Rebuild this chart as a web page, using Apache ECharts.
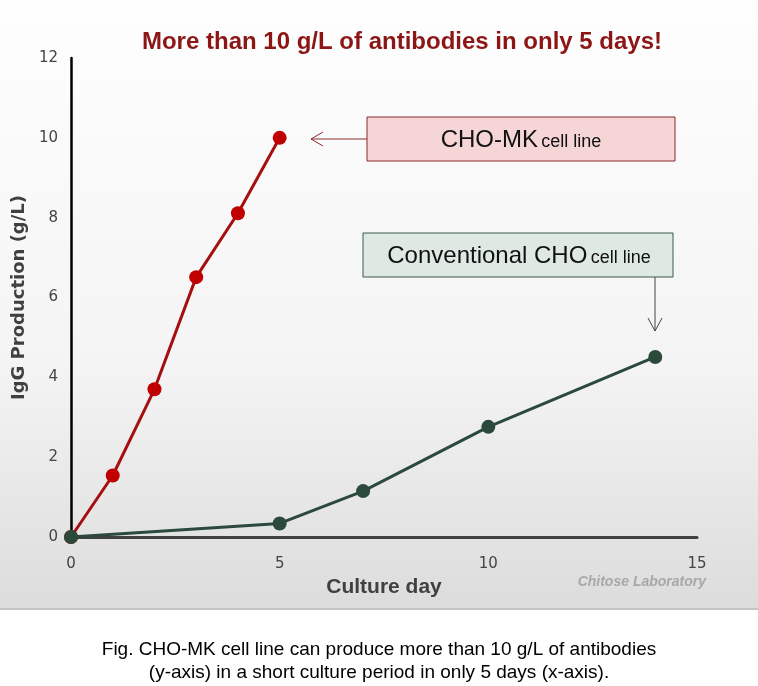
<!DOCTYPE html>
<html><head><meta charset="utf-8">
<script src="https://cdn.jsdelivr.net/npm/echarts@6/dist/echarts.min.js"></script>
<style>html,body{margin:0;padding:0;background:#fff}#c{width:758px;height:686px}</style>
</head><body><div id="c"></div>
<script>
const chartTitle = 'More than 10 g/L of antibodies in only 5 days!';
const xTicks = [0, 5, 10, 15];
const yTicks = [0, 2, 4, 6, 8, 10, 12];
const chomkDays = [0, 1, 2, 3, 4, 5];
const chomkValues = [0, 1.54, 3.70, 6.51, 8.11, 10.0];
const convDays = [0, 5, 7, 10, 14];
const convValues = [0, 0.34, 1.15, 2.76, 4.51];
const xName = 'Culture day';
const yName = 'IgG Production (g/L)';
const credit = 'Chitose Laboratory';
const caption = ['Fig. CHO-MK cell line can produce more than 10 g/L of antibodies', '(y-axis) in a short culture period in only 5 days (x-axis).'];

const sans = '"Liberation Sans", Arial, sans-serif';
const dejavu = '"DejaVu Sans", Verdana, sans-serif';
const chart = echarts.init(document.getElementById('c'));
const red = '#a50f0f', redDot = '#c00000', green = '#2b4a3c';

chart.setOption({
  animation: false,
  title: {text: chartTitle, left: 397, top: 25, textAlign: 'center',
    textStyle: {color: '#8c1616', fontSize: 24, fontWeight: 'bold', fontFamily: sans}},
  grid: {left: 71, right: 61, top: 58, bottom: 149},
  xAxis: {type: 'value', min: xTicks[0], max: xTicks[xTicks.length-1], interval: 5,
    axisLine: {lineStyle: {color: '#404040', width: 3}}, axisTick: {show: false}, splitLine: {show: false},
    axisLabel: {margin: 20, color: '#444', fontSize: 15, fontFamily: dejavu},
    name: xName, nameLocation: 'middle', nameGap: 35,
    nameTextStyle: {color: '#404040', fontSize: 21, fontWeight: 'bold', fontFamily: sans}},
  yAxis: {type: 'value', min: yTicks[0], max: yTicks[yTicks.length-1], interval: 2,
    axisLine: {show: true, lineStyle: {color: '#000', width: 2.5}}, axisTick: {show: false}, splitLine: {show: false},
    axisLabel: {margin: 13, color: '#444', fontSize: 15, fontFamily: dejavu},
    name: yName, nameLocation: 'middle', nameGap: 39,
    nameTextStyle: {color: '#404040', fontSize: 18, fontWeight: 'bold', fontFamily: dejavu}},
  series: [
    {type: 'line', data: chomkDays.map((d, i) => [d, chomkValues[i]]), symbol: 'circle', symbolSize: 14,
      lineStyle: {color: red, width: 3}, itemStyle: {color: redDot}, z: 3},
    {type: 'line', data: convDays.map((d, i) => [d, convValues[i]]), symbol: 'circle', symbolSize: 14,
      lineStyle: {color: green, width: 3}, itemStyle: {color: green}, z: 4}
  ],
  graphic: [
    {type: 'rect', z: -10, shape: {x: 0, y: 0, width: 758, height: 609},
      style: {fill: new echarts.graphic.LinearGradient(0, 0, 0, 1, [{offset: 0, color: '#fefefe'}, {offset: 0.6, color: '#f4f4f4'}, {offset: 1, color: '#dcdcdc'}])}},
    {type: 'rect', z: -9, shape: {x: 0, y: 608, width: 758, height: 2}, style: {fill: '#c4c4c4'}},
    {type: 'text', x: 379, y: 638, style: {text: caption.join('\n'), fontSize: 19, lineHeight: 23, fill: '#000', align: 'center', fontFamily: sans}},
    {type: 'text', right: 52, top: 575, style: {text: credit, fontSize: 14, fontStyle: 'italic', fontWeight: 'bold', fill: '#a8a8a8', fontFamily: sans}},
    // CHO-MK box
    {type: 'rect', shape: {x: 367, y: 117, width: 308, height: 44}, style: {fill: '#f5d5d6', stroke: '#8c2a2a', lineWidth: 1}},
    {type: 'text', x: 521, y: 140, style: {text: '{a|CHO-MK} {b|cell line}', align: 'center', verticalAlign: 'middle',
      rich: {a: {fontSize: 24, fontFamily: sans, fill: '#111'}, b: {fontSize: 18, fontFamily: sans, fill: '#111', padding: [5, 0, 0, 0]}}}},
    {type: 'line', shape: {x1: 367, y1: 139, x2: 311, y2: 139}, style: {stroke: '#8c2a2a', lineWidth: 1}},
    {type: 'polyline', shape: {points: [[323, 132], [311, 139], [323, 146]]}, style: {stroke: '#8c2a2a', lineWidth: 1, fill: null}},
    // Conventional box
    {type: 'rect', shape: {x: 363, y: 233, width: 310, height: 44}, style: {fill: '#dde9e2', stroke: '#3d5a4c', lineWidth: 1}},
    {type: 'text', x: 519, y: 256, style: {text: '{a|Conventional CHO} {b|cell line}', align: 'center', verticalAlign: 'middle',
      rich: {a: {fontSize: 24, fontFamily: sans, fill: '#111'}, b: {fontSize: 18, fontFamily: sans, fill: '#111', padding: [5, 0, 0, 0]}}}},
    {type: 'line', shape: {x1: 655, y1: 277, x2: 655, y2: 331}, style: {stroke: '#444', lineWidth: 1}},
    {type: 'polyline', shape: {points: [[648, 318], [655, 331], [662, 318]]}, style: {stroke: '#444', lineWidth: 1, fill: null}}
  ]
});
</script></body></html>
